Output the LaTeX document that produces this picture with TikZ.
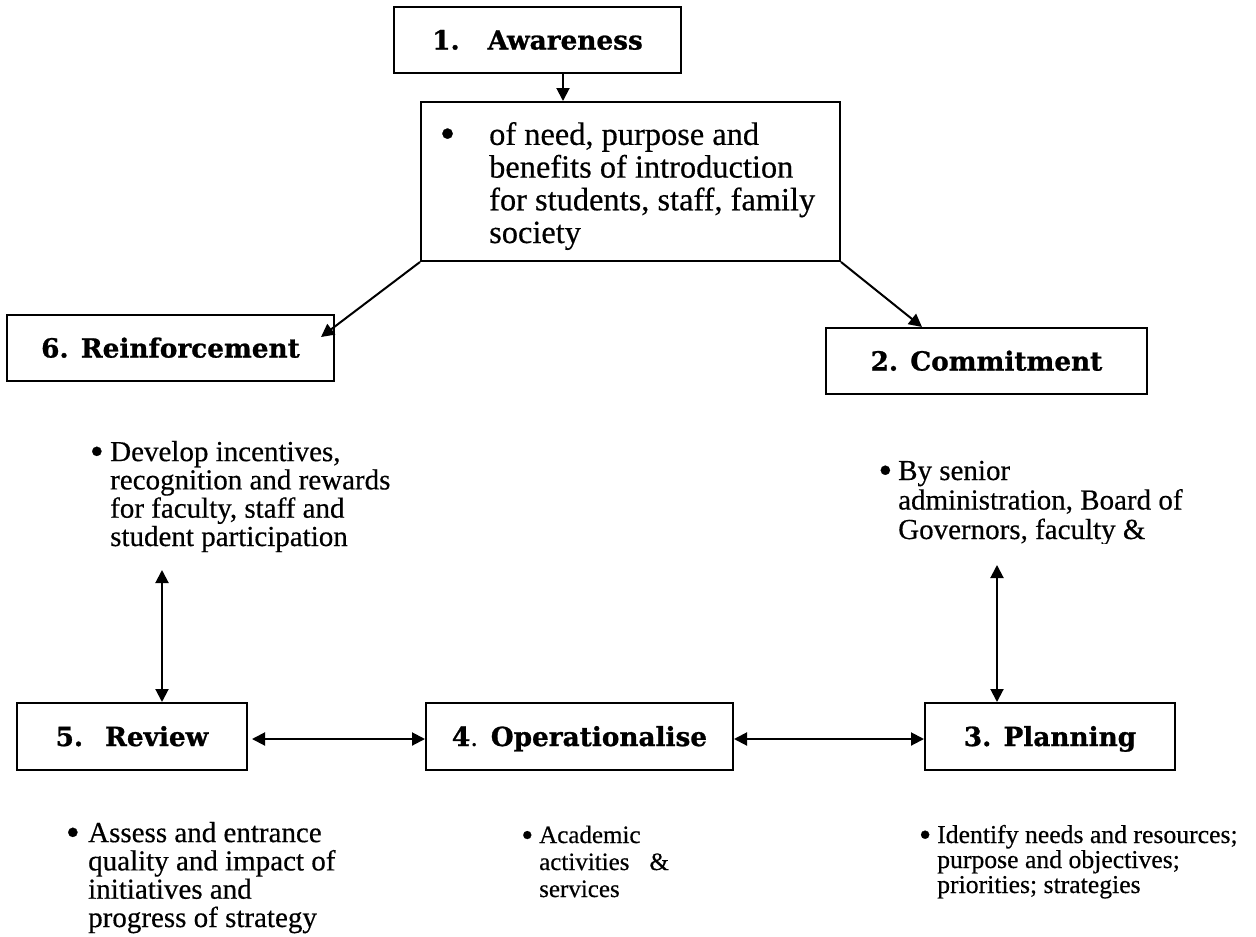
\documentclass[tikz,border=0pt]{standalone}
\usepackage{fontspec}
\setmainfont[FakeBold=0.45]{Liberation Serif}
\newfontfamily\titlefont[BoldFeatures={FakeBold=0.9}]{DejaVu Serif}
\usetikzlibrary{arrows.meta,calc}
\newcommand{\bul}{\raisebox{-3.2pt}{\scalebox{1.35}{•}}}
\tikzset{
  box/.style={draw, line width=2pt, inner sep=0pt, text height=19pt, text depth=0pt,
    font=\titlefont\bfseries\fontsize{26.3}{30}\selectfont},
  arr/.style={line width=2pt, -{Triangle[length=13pt,width=13pt]}},
  darr/.style={line width=2pt, {Triangle[length=13pt,width=13pt]}-{Triangle[length=13pt,width=13pt]}},
  bodytext/.style={anchor=base west, inner sep=0pt, align=left},
}
\begin{document}
\begin{tikzpicture}[x=1pt,y=-1pt]
\useasboundingbox (0,0) rectangle (1256,937);

% boxes
\node[box, minimum width=287pt, minimum height=66pt] (b1) at (537.5,40) {1.\hspace{28pt}Awareness};
\node[draw, line width=2pt, minimum width=419pt, minimum height=159pt, inner sep=0pt] (aw) at (630.5,181.5) {};
\node[box, minimum width=327pt, minimum height=66pt] (b6) at (170.5,348) {6. Reinforcement};
\node[box, minimum width=321pt, minimum height=66pt] (b2) at (986.5,361) {2. Commitment};
\node[box, minimum width=230pt, minimum height=67pt] (b5) at (132,736.5) {5.\hspace{22pt}Review};
\node[box, minimum width=307pt, minimum height=67pt] (b4) at (579.5,736.5) {4{\mdseries.} Operationalise};
\node[box, minimum width=250pt, minimum height=67pt] (b3) at (1050,736.5) {3. Planning};

% texts (anchored at the baseline of their last line)
\node[bodytext, font=\fontsize{32.4}{32.7}\selectfont] (awt) at (489,243)
  {\llap{\bul\hspace{34pt}}of need, purpose and\\benefits of introduction\\for students, staff, family\\society};
\node[bodytext, font=\fontsize{29}{28.3}\selectfont] (t6) at (110,546)
  {\llap{\bul\hspace{6.5pt}}Develop incentives,\\recognition and rewards\\for faculty, staff and\\student participation};
\begin{scope}
  \clip (850,430) rectangle (1256,543);
  \node[bodytext, font=\fontsize{29}{29.5}\selectfont] (t2) at (898,539)
    {\llap{\bul\hspace{6pt}}By senior\\administration, Board of\\Governors, faculty \&};
\end{scope}
\node[bodytext, font=\fontsize{29}{28.3}\selectfont] (t5) at (88,927)
  {\llap{\bul\hspace{8.5pt}}Assess and entrance\\quality and impact of\\initiatives and\\progress of strategy};
\node[bodytext, font=\fontsize{25}{27}\selectfont] (t4) at (539,897)
  {\llap{\bul\hspace{6pt}}Academic\\activities\hspace{20pt}\&\\services};
\node[bodytext, font=\fontsize{25.7}{25}\selectfont] (t3) at (937,893)
  {\llap{\bul\hspace{6pt}}Identify needs and resources;\\purpose and objectives;\\priorities; strategies};

% connectors
\draw[arr] ([xshift=25.5pt]b1.south) -- ([xshift=25.5pt]b1.south |- aw.north);
\draw[arr] (aw.south west) -- ([xshift=-14pt,yshift=-23pt]b6.north east);
\draw[arr] (aw.south east) -- ([xshift=97pt]b2.north west);
\coordinate (c6) at (162,570);
\draw[darr] (c6) -- ([xshift=30pt]b5.north);
\coordinate (c2) at (997,565);
\draw[darr] (c2) -- ([xshift=-53pt]b3.north);
\draw[darr] ([xshift=4pt,yshift=-2.5pt]b5.east) -- ([yshift=-2.5pt]b4.west);
\draw[darr] ([yshift=-2.5pt]b4.east) -- ([yshift=-2.5pt]b3.west);
\end{tikzpicture}
\end{document}
